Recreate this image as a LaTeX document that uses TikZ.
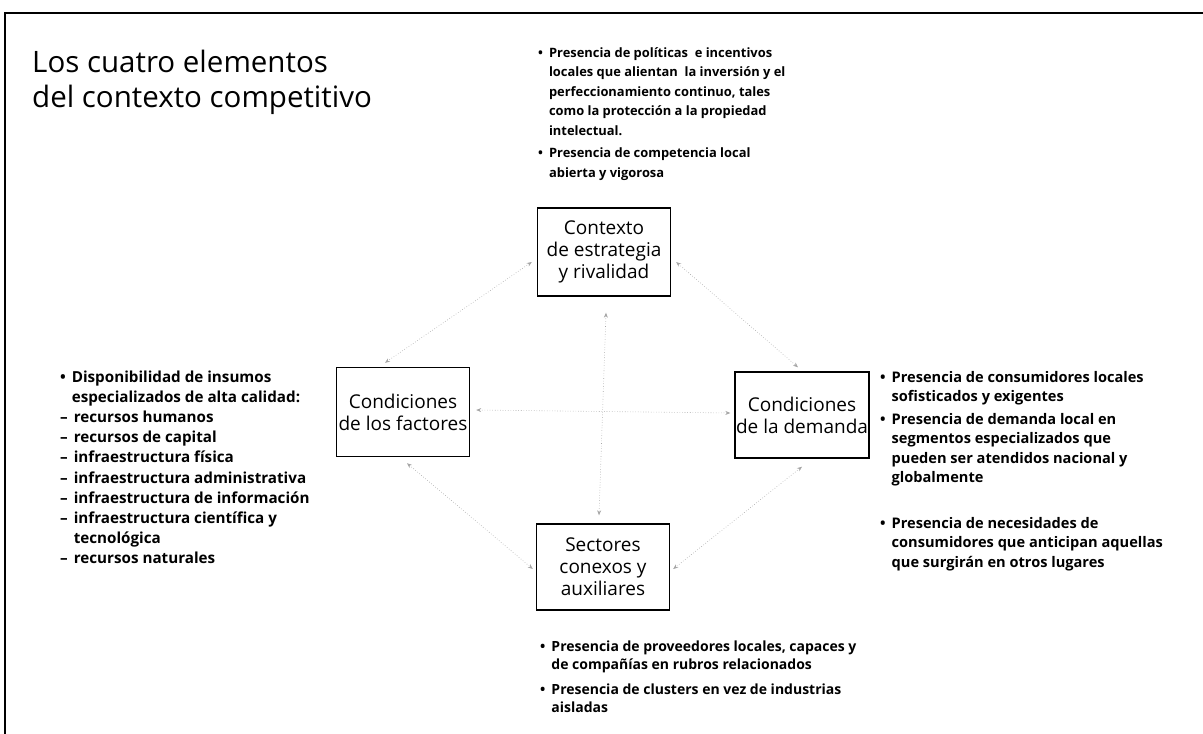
\documentclass[tikz,border=0pt]{standalone}
\usepackage{fontspec}
\setmainfont{Open Sans}
\usetikzlibrary{arrows.meta,calc}
\tikzset{
  box/.style={draw, line width=1.4pt, minimum width=133pt, align=center,
    font=\fontsize{19}{22}\selectfont, inner sep=1pt},
  link/.style={draw=black!35, dotted, line width=0.6pt,
    {Stealth[length=5pt,width=4pt]}-{Stealth[length=5pt,width=4pt]}},
  txt/.style={anchor=base west, inner sep=0pt, font=\bfseries\fontsize{13.2}{19.5}\selectfont},
  frame/.style={line width=2.4pt}
}
\begin{document}
\begin{tikzpicture}[x=1pt,y=-1pt]
\useasboundingbox (0,0) rectangle (1203,734);
% frame
\coordinate (fbl) at (5,734);
\coordinate (ftl) at (5,13);
\coordinate (ftr) at (1203,13);
\draw[frame] (fbl) -- (ftl) -- (ftr);

% title
\node[anchor=base west, inner sep=0pt, align=left, font=\fontsize{29.5}{35}\selectfont] (title) at (32,107)
  {Los cuatro elementos\\del contexto competitivo};

% boxes
\node[box, minimum height=88pt] (ctx) at (604,252) {Contexto\\de estrategia\\y rivalidad};
\node[box, minimum height=89pt] (fac) at (403,412) {Condiciones\\de los factores};
\node[box, minimum height=86pt, minimum width=131pt] (dem) at (802,415) {Condiciones\\de la demanda};
\node[box, minimum height=86pt] (sec) at (603,567) {Sectores\\conexos y\\auxiliares};

% links
\draw[link] ($(ctx.west)+(-5,10)$) -- ($(fac.north)+(-18,-4)$);
\draw[link] ($(ctx.east)+(5,10)$) -- ($(dem.north)+(-4,-4)$);
\draw[link] ($(ctx.south)+(2,16)$) -- ($(sec.north)+(-4,-8)$);
\draw[link] ($(fac.east)+(6,-2)$) -- ($(dem.west)+(-4,-2)$);
\draw[link] ($(fac.south)+(4,6)$) -- ($(sec.west)+(-3,2)$);
\draw[link] ($(dem.south)+(0,8)$) -- ($(sec.east)+(3,2)$);

% top text
\node[txt, font=\bfseries\fontsize{12.9}{19.5}\selectfont] (ctxtxt) at (538,57) {\begin{tabular}[t]{@{}l@{\hspace{6pt}}l@{}}
\textbullet & Presencia de políticas\ \ e incentivos\\
 & locales que alientan\ \ la inversión y el\\
 & perfeccionamiento continuo, tales\\
 & como la protección a la propiedad\\
 & intelectual.\\[3pt]
\textbullet & Presencia de competencia local\\
 & abierta y vigorosa
\end{tabular}};

% left text
\node[txt, font=\bfseries\fontsize{15.2}{20.2}\selectfont] (factxt) at (60,382) {\begin{tabular}[t]{@{}l@{\hspace{4pt}}l@{}}
\textbullet & Disponibilidad de insumos\\
 & especializados de alta calidad:\\
– & \hspace{2pt}recursos humanos\\
– & \hspace{2pt}recursos de capital\\
– & \hspace{2pt}infraestructura física\\
– & \hspace{2pt}infraestructura administrativa\\
– & \hspace{2pt}infraestructura de información\\
– & \hspace{2pt}infraestructura científica y\\
 & \hspace{2pt}tecnológica\\
– & \hspace{2pt}recursos naturales
\end{tabular}};

% right text
\node[txt, font=\bfseries\fontsize{14.6}{19.5}\selectfont] (demtxt) at (880,382) {\begin{tabular}[t]{@{}l@{\hspace{6pt}}l@{}}
\textbullet & Presencia de consumidores locales\\
 & sofisticados y exigentes\\[3pt]
\textbullet & Presencia de demanda local en\\
 & segmentos especializados que\\
 & pueden ser atendidos nacional y\\
 & globalmente\\[26pt]
\textbullet & Presencia de necesidades de\\
 & consumidores que anticipan aquellas\\
 & que surgirán en otros lugares
\end{tabular}};

% bottom text
\node[txt, font=\bfseries\fontsize{14}{18}\selectfont] (sectxt) at (540,651) {\begin{tabular}[t]{@{}l@{\hspace{6pt}}l@{}}
\textbullet & Presencia de proveedores locales, capaces y\\
 & de compañías en rubros relacionados\\[7pt]
\textbullet & Presencia de clusters en vez de industrias\\
 & aisladas
\end{tabular}};
\end{tikzpicture}
\end{document}
